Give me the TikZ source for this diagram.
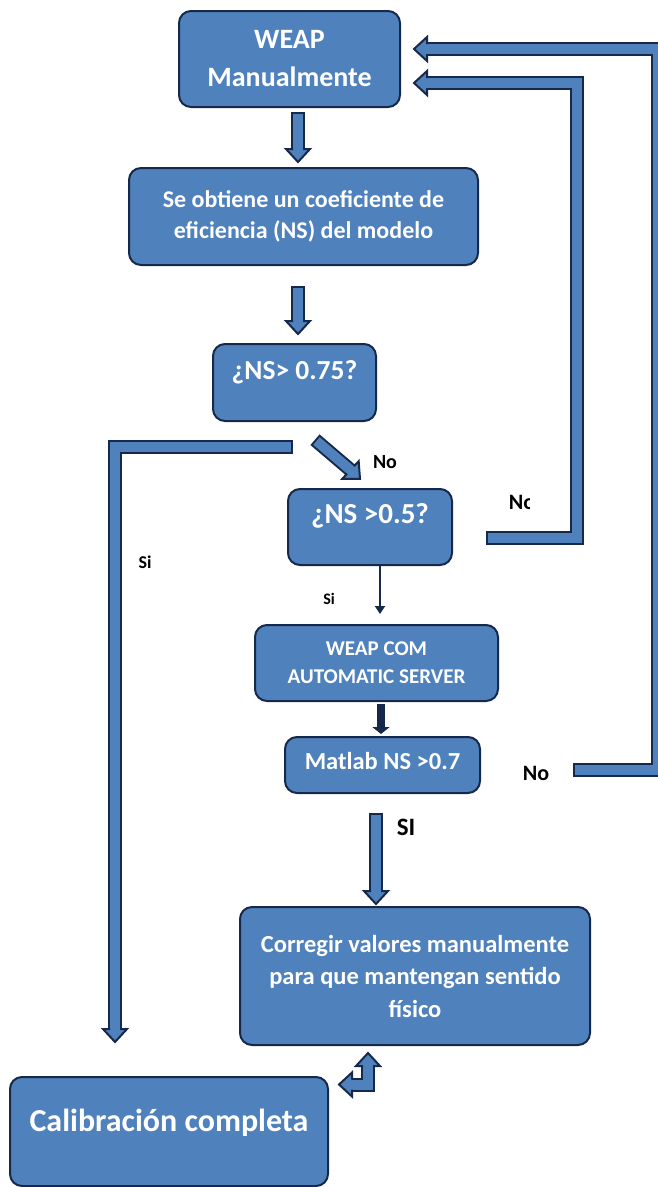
\documentclass[tikz,border=0pt]{standalone}
\usepackage{fontspec}
\setmainfont{Carlito}
\usetikzlibrary{calc,arrows.meta}
\definecolor{boxblue}{HTML}{4F81BD}
\definecolor{edgeblue}{HTML}{17294A}
\newcommand{\headat}[2]{\filldraw[headbox, shift={(#1)}, rotate=#2] (0,5) -- (0,12) -- (13,0) -- (0,-12) -- (0,-5);}
\tikzset{
 sz/.style 2 args={font=\fontsize{#1}{#2}\selectfont\bfseries},
 box/.style={draw=edgeblue, fill=boxblue, line width=2pt, rounded corners=12pt, text=white, align=center, inner sep=0pt},
 pipe/.style={draw=boxblue, line width=10pt, preaction={draw=edgeblue, line width=14pt, shorten <=-2pt}},
 headbox/.style={fill=boxblue, draw=edgeblue, line width=2pt, line join=miter},
 lbl/.style={inner sep=0pt, text=black}
}
\begin{document}
\begin{tikzpicture}[x=1pt, y=-1pt]
 \path[use as bounding box, fill=white] (0,0) rectangle (657,1187);
 % boxes
 \node[box, minimum width=221, minimum height=96, sz={28}{38}] (weap) at (289.5,59) {WEAP\\Manualmente};
 \node[box, minimum width=349, minimum height=97, sz={24}{31}] (obt) at (303.5,216.5) {Se obtiene un coeficiente de\\eficiencia (NS) del modelo};
 \node[box, minimum width=163, minimum height=77, sz={27.5}{32}, text height=19pt, text depth=25pt] (q75) at (294.5,382.5) {¿NS> 0.75?};
 \node[box, minimum width=164, minimum height=76, sz={29}{34}, text height=20pt, text depth=28pt] (q5) at (370,527) {¿NS >0.5?};
 \node[box, minimum width=243, minimum height=76, sz={21}{28}] (srv) at (376.5,663) {WEAP COM\\AUTOMATIC SERVER};
 \node[box, minimum width=195, minimum height=56, sz={24.5}{28}, text height=17pt, text depth=8pt] (mat) at (382.5,765) {Matlab NS >0.7};
 \node[box, minimum width=350, minimum height=138, sz={24.5}{32.5}] (corr) at (415,976) {Corregir valores manualmente\\para que mantengan sentido\\físico};
 \node[box, minimum width=318, minimum height=109, sz={32}{38}, text height=21pt, text depth=21pt] (cal) at (169,1131.5) {Calibración completa};

 % block arrows
 \coordinate (t1) at ($(weap.south)+(8.5,6)$);
 \coordinate (h1) at ($(obt.north)+(-5.5,-18)$);
 \draw[pipe] (t1) -- (h1); \headat{h1}{-90}
 \coordinate (t2) at ($(obt.south)+(-5.5,22)$);
 \coordinate (h2) at ($(q75.north)+(3.5,-22)$);
 \draw[pipe] (t2) -- (h2); \headat{h2}{-90}
 \coordinate (t3) at ($(q75.south)+(-3.5,25)$);
 \coordinate (h3) at ($(cal.north)+(-54,-47)$);
 \draw[pipe] (t3) -| (h3); \headat{h3}{-90}
 \coordinate (t4) at ($(q75.south)+(22,19)$);
 \coordinate (h4) at ($(q5.north)+(-19.5,-18)$);
 \draw[pipe] (t4) -- (h4); \headat{h4}{-43}
 \coordinate (t5) at ($(q5.east)+(35,11)$);
 \coordinate (h5) at ($(weap.east)+(26,24)$);
 \draw[pipe] (t5) -| ($(h5)+(150,0)$) -- (h5); \headat{h5}{180}
 \coordinate (t6) at ($(mat.east)+(94,5)$);
 \coordinate (h6) at ($(weap.east)+(26,-10)$);
 \draw[pipe] (t6) -| ($(h6)+(231,0)$) -- (h6); \headat{h6}{180}
 \coordinate (t7) at ($(mat.south)+(-6.5,21)$);
 \coordinate (h7) at ($(corr.north)+(-39,-15)$);
 \draw[pipe] (t7) -- (h7); \headat{h7}{-90}
 \coordinate (h8) at ($(corr.south)+(-47,20)$);
 \coordinate (h9) at ($(cal.east)+(23,-47)$);
 \draw[pipe] (h8) |- (h9); \headat{h8}{90} \headat{h9}{180}

 % dark arrows
 \draw[edgeblue, line width=2.5pt, -{Triangle[width=10pt,length=8pt]}] ($(q5.south)+(10,0)$) -- ($(srv.north)+(3.5,-10)$);
 \draw[edgeblue, line width=8pt, -{Triangle[width=17pt,length=7pt]}] ($(srv.south)+(4.5,2)$) -- ($(mat.north)+(-1.5,-2)$);

 % labels
 \node[lbl, sz={20}{24}] (no1) at (385,462) {No};
 \begin{scope}
  \clip (495,485) rectangle (529,520);
  \node[lbl, sz={22}{26}] (no2) at (522,502) {No};
 \end{scope}
 \node[lbl, sz={18}{21}] (si1) at (145,562) {Si};
 \node[lbl, sz={16}{19}] (si2) at (329,599) {Si};
 \node[lbl, sz={25}{29}] (si3) at (406,827) {SI};
 \node[lbl, sz={22}{26}] (no3) at (536,773) {No};
\end{tikzpicture}
\end{document}
